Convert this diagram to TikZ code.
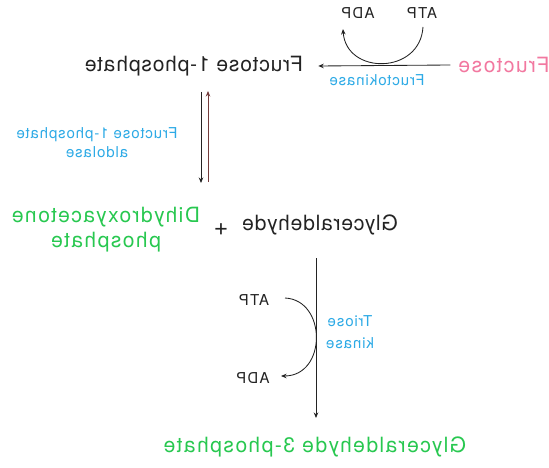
\documentclass[tikz,border=0pt]{standalone}
\usepackage{fontspec}
\usepackage{graphicx}
\usetikzlibrary{arrows.meta}
\setmainfont{TeX Gyre Heros}
\newfontfamily\bigf[LetterSpace=4]{TeX Gyre Heros}
\newfontfamily\greenf[LetterSpace=7]{TeX Gyre Heros}
\newfontfamily\smallf[LetterSpace=6]{TeX Gyre Heros}
\newfontfamily\cofacf[LetterSpace=8]{TeX Gyre Heros}
\newcommand{\mirtext}[1]{\scalebox{-1}[1]{#1}}
\definecolor{enzblue}{RGB}{45,170,230}
\definecolor{molgreen}{RGB}{40,200,80}
\definecolor{frupink}{RGB}{242,120,160}
\definecolor{inkgray}{RGB}{35,35,35}
\tikzset{
  bigtxt/.style={inner sep=0pt, font=\bigf\fontsize{21}{25}\selectfont, text=inkgray},
  greentxt/.style={inner sep=0pt, font=\greenf\fontsize{21}{25}\selectfont, text=molgreen},
  enztxt/.style={inner sep=0pt, font=\smallf\fontsize{15}{19}\selectfont, text=enzblue},
  cofac/.style={inner sep=0pt, font=\cofacf\fontsize{15}{18}\selectfont, text=inkgray},
  arr/.style={draw=inkgray, line width=0.85pt, -{Stealth[length=5.5pt,width=4.5pt]}},
}
\begin{document}
\begin{tikzpicture}[x=1pt,y=-1pt]
\useasboundingbox (0,0) rectangle (549,468);
\fill[white] (0,0) rectangle (549,468);
% molecules
\node[inner sep=0pt, font=\greenf\fontsize{21}{25}\selectfont, text=frupink] (fru) at (504,65) {\mirtext{Fructose}};
\node[bigtxt] (f1p) at (194,66) {\mirtext{Fructose 1-phosphate}};
\node[greentxt] (dhap) at (106,230) {\mirtext{\begin{tabular}{@{}c@{}}Dihydroxyacetone\\phosphate\end{tabular}}};
\node[inner sep=0pt, font=\bigf\fontsize{25}{28}\selectfont, text=inkgray] (plus) at (221,230) {\mirtext{+}};
\node[bigtxt] (gly) at (320,225) {\mirtext{Glyceraldehyde}};
\node[greentxt] (g3p) at (315,447) {\mirtext{Glyceraldehyde 3-phosphate}};
% enzymes
\node[enztxt] (fk) at (377,80) {\mirtext{Fructokinase}};
\node[enztxt] (ald) at (97,144) {\mirtext{\begin{tabular}{@{}c@{}}Fructose 1-phosphate\\aldolase\end{tabular}}};
\node[enztxt] (tk) at (350,334) {\mirtext{\begin{tabular}{@{}c@{}}Triose\\[3pt]kinase\end{tabular}}};
% cofactors
\node[cofac] (atp1) at (422,13) {\mirtext{ATP}};
\node[cofac] (adp1) at (358,13) {\mirtext{ADP}};
\node[cofac] (atp2) at (254,300) {\mirtext{ATP}};
\node[cofac] (adp2) at (253,378) {\mirtext{ADP}};
% coordinates
\coordinate (a1s) at (423,27);
\coordinate (a1e) at (343,29);
\coordinate (v1t) at (201,92);
\coordinate (v1b) at (201,183);
\coordinate (v2t) at (208,91);
\coordinate (v2b) at (208,182);
\coordinate (v3t) at (316,258);
\coordinate (v3b) at (316,418);
\coordinate (a2s) at (285,298);
\coordinate (a2e) at (281,376);
% fructokinase reaction
\draw[arr] ([xshift=-8pt]fru.west) -- ([xshift=15pt]f1p.east);
\draw[arr] (a1s) .. controls (420,75) and (346,75) .. (a1e);
% aldolase (reversible)
\draw[arr] (v1t) -- (v1b);
\draw[arr, draw={rgb,255:red,115;green,60;blue,60}] (v2b) -- (v2t);
% triose kinase
\draw[arr] (v3t) -- (v3b);
\draw[arr] (a2s) .. controls (327,300) and (327,376) .. (a2e);
\end{tikzpicture}
\end{document}
